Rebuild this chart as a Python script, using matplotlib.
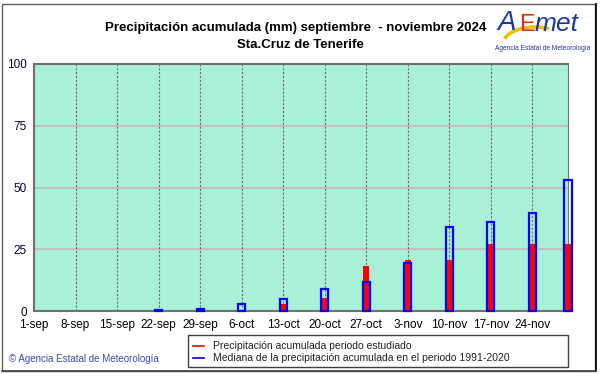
import matplotlib
matplotlib.use("Agg")
import matplotlib.pyplot as plt
from matplotlib.patches import Rectangle, Arc
from matplotlib.lines import Line2D

plt.rcParams['font.family'] = ['Liberation Sans', 'DejaVu Sans']

# Data
tick_labels = ["1-sep", "8-sep", "15-sep", "22-sep", "29-sep", "6-oct", "13-oct",
               "20-oct", "27-oct", "3-nov", "10-nov", "17-nov", "24-nov"]
tick_days = [0, 7, 14, 21, 28, 35, 42, 49, 56, 63, 70, 77, 84]
bar_days = [21, 28, 35, 42, 49, 56, 63, 70, 77, 84, 90]
observed = [0.0, 0.0, 0.0, 3.0, 5.4, 18.4, 20.6, 20.6, 27.1, 27.1, 27.1]
median_1991_2020 = [0.3, 1.0, 3.0, 4.7, 8.9, 11.6, 19.6, 34.2, 35.9, 39.6, 53.0]
y_ticks = [0, 25, 50, 75, 100]

W, H = 601, 374
fig = plt.figure(figsize=(W / 100, H / 100), dpi=100)
fig.patch.set_facecolor('white')

# Figure frame
fig.add_artist(Rectangle((2 / W, 3 / H), (595 - 2) / W, (370 - 3) / H, transform=fig.transFigure,
                         fill=False, edgecolor='#606060', linewidth=1.0))
fig.add_artist(Line2D([596 / W, 596 / W], [3 / H, 370 / H], transform=fig.transFigure,
                      color='black', linewidth=1.2))
fig.add_artist(Line2D([2 / W, 596 / W], [3 / H, 3 / H], transform=fig.transFigure,
                      color='#404040', linewidth=1.2))

ax = fig.add_axes([34 / W, (H - 311) / H, (568 - 34) / W, (311 - 64) / H])
ax.set_facecolor('#a8f0d8')
ax.set_xlim(0, 90)
ax.set_ylim(0, 100)

for y in [25, 50, 75]:
    ax.axhline(y, color='#c0c0c0', linewidth=1.5, zorder=1)
for d in tick_days[1:]:
    ax.axvline(d, color='#707070', linewidth=0.8, linestyle=(0, (2, 1.5)), zorder=1)

ax.bar(bar_days, observed, width=1.0, color='#ff0000', edgecolor='none', zorder=3, clip_on=False)
ax.bar(bar_days, median_1991_2020, width=1.2, fill=False, edgecolor='#0000ff', linewidth=1.6,
       zorder=4, clip_on=False)

ax.set_xticks(tick_days)
ax.set_xticklabels(tick_labels, fontsize=8.5)
ax.set_yticks(y_ticks)
ax.set_yticklabels([str(v) for v in y_ticks], fontsize=8.5, color='#000040')
ax.tick_params(length=0, pad=6)
ax.tick_params(axis='y', pad=5)
for s in ax.spines.values():
    s.set_color('#707070')
    s.set_linewidth(1.5)
ax.spines['right'].set_linewidth(0.8)

# Titles
fig.text(296 / W, 1 - 28 / H, "Precipitación acumulada (mm) septiembre  - noviembre 2024",
         ha='center', va='center', fontsize=9.5, fontweight='bold')
fig.text(300 / W, 1 - 45 / H, "Sta.Cruz de Tenerife",
         ha='center', va='center', fontsize=9.5, fontweight='bold')

# Logo
fig.text(497 / W, 1 - 23 / H, "A", ha='left', va='center', fontsize=20, color='#1a3aa0',
         fontstyle='italic')
fig.text(519 / W, 1 - 25 / H, "E", ha='left', va='center', fontsize=17, color='#e03010')
fig.text(535 / W, 1 - 24 / H, "met", ha='left', va='center', fontsize=19, color='#1a3aa0',
         fontstyle='italic')
fig.add_artist(Arc((535 / W, 1 - 44 / H), 64 / W, 34 / H, theta1=60, theta2=165,
                   transform=fig.transFigure, color='#f0c000', linewidth=2.5))
fig.text(543 / W, 1 - 48 / H, "Agencia Estatal de Meteorología", ha='center', va='center',
         fontsize=4.8, color='#1a3aa0')

# Legend box
fig.add_artist(Rectangle((188 / W, 1 - 367 / H), (568 - 188) / W, (367 - 335) / H,
                         transform=fig.transFigure, facecolor='white', edgecolor='#404040',
                         linewidth=1.0))
fig.add_artist(Line2D([193 / W, 204 / W], [1 - 346 / H, 1 - 346 / H], transform=fig.transFigure,
                      color='#ff0000', linewidth=1.2))
fig.add_artist(Line2D([193 / W, 204 / W], [1 - 358 / H, 1 - 358 / H], transform=fig.transFigure,
                      color='#0000ff', linewidth=1.2))
fig.text(213 / W, 1 - 346 / H, "Precipitación acumulada periodo estudiado", ha='left',
         va='center', fontsize=7.5, color='#202020')
fig.text(213 / W, 1 - 358 / H, "Mediana de la precipitación acumulada en el periodo 1991-2020",
         ha='left', va='center', fontsize=7.5, color='#202020')

fig.text(9 / W, 1 - 359 / H, "© Agencia Estatal de Meteorología", ha='left', va='center',
         fontsize=7, color='#3050b0')

fig.savefig("out.png", dpi=100, facecolor='white')
